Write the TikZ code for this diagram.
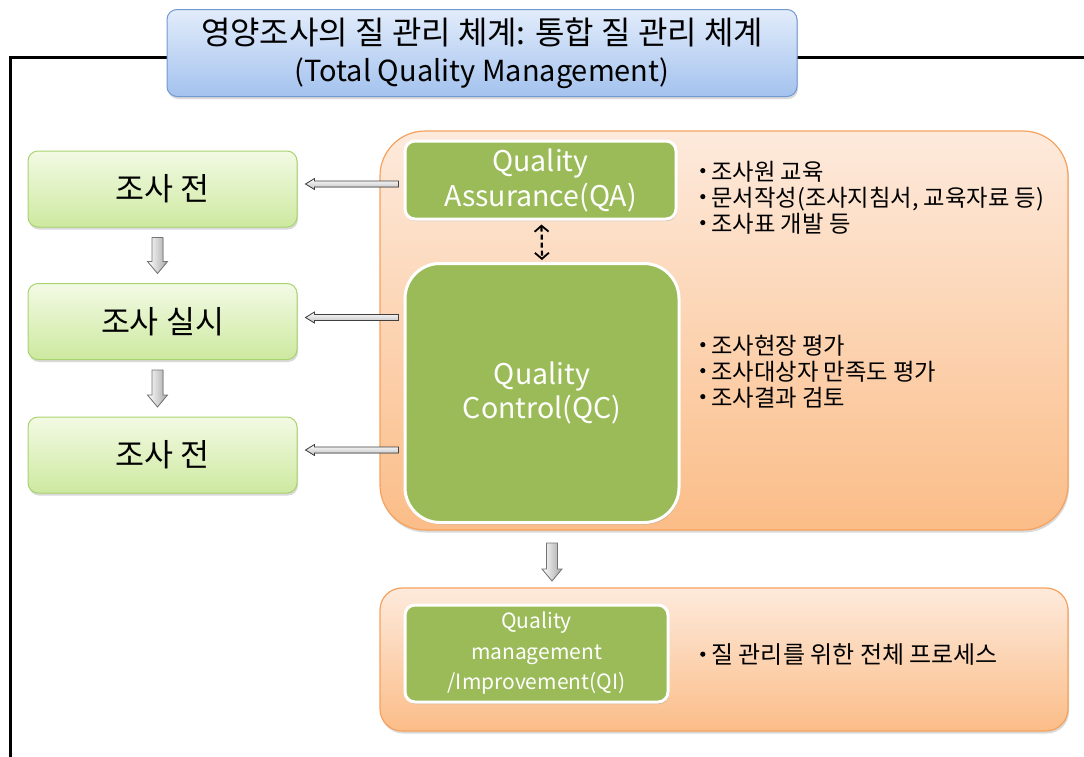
\documentclass[tikz,border=0pt]{standalone}
\usepackage{fontspec}
\setmainfont{Noto Sans CJK KR}
\usetikzlibrary{calc,shadows,arrows.meta}

\definecolor{titletop}{HTML}{E2ECFB}
\definecolor{titlebot}{HTML}{A3C2EE}
\definecolor{titleedge}{HTML}{7398D2}
\definecolor{stagetop}{HTML}{F3FAE4}
\definecolor{stagebot}{HTML}{CDE9A0}
\definecolor{stageedge}{HTML}{A9D36E}
\definecolor{qgreen}{HTML}{9BBB59}
\definecolor{pantop}{HTML}{FDEADC}
\definecolor{panbot}{HTML}{FBBD88}
\definecolor{panedge}{HTML}{F6A25E}

% hollow block arrow pointing down: #1 top point, #2 length
\newcommand\blockdown[2]{%
  \filldraw[blockarrow] ($(#1)+(-5.5,0)$) -- ++(11,0) -- ++(0,{#2-12}) -- ++(4.5,0)
    -- ++(-10,12) -- ++(-10,-12) -- ++(4.5,0) -- cycle;}
% thin outlined arrow pointing left: #1 tail, #2 tip
\newcommand\thinleft[2]{%
  \filldraw[thinarrow] ($(#1)+(0,-3)$) -- ($(#2)+(9,-3)$) -- ($(#2)+(9,-5.5)$) -- (#2)
    -- ($(#2)+(9,5.5)$) -- ($(#2)+(9,3)$) -- ($(#1)+(0,3)$) -- cycle;}
% list bullet
\newcommand\bul{\raisebox{0.3em}{\tikz\fill[black] (0,0) circle (2.6pt);}\hspace{6pt}}

\begin{document}
\begin{tikzpicture}[x=1pt,y=-1pt,
  softshadow/.style={drop shadow={opacity=0.3,shadow xshift=1pt,shadow yshift=-2.5pt}},
  titlebox/.style={draw=titleedge,line width=1pt,rounded corners=10pt,
    top color=titletop,bottom color=titlebot,minimum width=630pt,minimum height=87pt,
    align=center,font=\fontsize{29}{37}\selectfont,softshadow},
  stage/.style={draw=stageedge,line width=1pt,rounded corners=10pt,
    top color=stagetop,bottom color=stagebot,minimum width=269pt,minimum height=76pt,
    font=\fontsize{31.5}{33}\selectfont,softshadow},
  panel/.style={draw=panedge,line width=1.2pt,top color=pantop,bottom color=panbot,
    minimum width=688pt,softshadow},
  qbox/.style={fill=qgreen,draw=white,line width=3pt,text=white,align=center,
    drop shadow={opacity=0.35,shadow xshift=1pt,shadow yshift=-2pt}},
  bullets/.style={anchor=west,align=left,font=\fontsize{23.3}{26}\selectfont,inner sep=0pt},
  blockarrow/.style={draw=black!55,line width=0.8pt,left color=white,right color=black!35},
  thinarrow/.style={draw=black!75,line width=0.8pt,top color=white,bottom color=black!25},
  link/.style={line width=2.2pt,dash pattern=on 5pt off 3pt,
    {Straight Barb[length=6pt,width=14pt,line width=1.8pt]}-{Straight Barb[length=6pt,width=14pt,line width=1.8pt]}}
]
\useasboundingbox (0,0) rectangle (1084,756);

% outer frame
\draw[line width=3pt] (10,770) -- (10,57) -- (1100,57);

% title
\node[titlebox] (title) at (482,53)
  {{\fontsize{32}{37}\selectfont 영양조사의 질 관리 체계: 통합 질 관리 체계}\\
   (Total Quality Management)};

% survey stages
\node[stage] (s1) at (162.5,189) {조사 전};
\node[stage] (s2) at (162.5,321.5) {조사 실시};
\node[stage] (s3) at (162.5,455) {조사 전};

% panels
\node[panel,minimum height=399pt,rounded corners=45pt] (upper) at (724,330.5) {};
\node[panel,minimum height=143pt,rounded corners=22pt] (lower) at (724,659.5) {};

% quality boxes
\node[qbox,rounded corners=10pt,minimum width=271pt,minimum height=78pt,
  font=\fontsize{28.5}{35}\selectfont] (qa) at (540.5,180) {Quality\\Assurance(QA)};
\node[qbox,rounded corners=35pt,minimum width=274pt,minimum height=259pt,
  font=\fontsize{28.5}{34}\selectfont] (qc) at (542,393) {Quality\\Control(QC)};
\node[qbox,rounded corners=10pt,minimum width=263pt,minimum height=97pt,
  font=\fontsize{21}{30.5}\selectfont] (qi) at (536.5,653.5)
  {Quality\\management\\/Improvement(QI)};

% bullet lists
\node[bullets] (qanote) at (700,197.5)
  {\bul 조사원 교육\\\bul 문서작성(조사지침서, 교육자료 등)\\\bul 조사표 개발 등};
\node[bullets] (qcnote) at (700,371.5)
  {\bul 조사현장 평가\\\bul 조사대상자 만족도 평가\\\bul 조사결과 검토};
\node[bullets,font=\fontsize{24}{26}\selectfont] (qinote) at (700,655)
  {\bul 질 관리를 위한 전체 프로세스};

% arrows between stages
\coordinate (d1) at ($(s1.south)+(-5,10)$);
\coordinate (d2) at ($(s2.south)+(-5,10)$);
\blockdown{d1}{36}
\blockdown{d2}{37}

% arrows from the quality boxes to the stages
\path (qa.west |- s1.east) coordinate (t1);
\path (qc.west |- s2.east) coordinate (t2);
\path (qc.west |- s3.east) coordinate (t3);
\coordinate (h1) at ($(s1.east)+(8,-5)$);
\coordinate (h2) at ($(s2.east)+(8,-4)$);
\coordinate (h3) at ($(s3.east)+(8,-5)$);
\coordinate (t1) at ($(t1)+(-5,-5)$);
\coordinate (t2) at ($(t2)+(-5,-4)$);
\coordinate (t3) at ($(t3)+(-5,-5)$);
\thinleft{t1}{h1}
\thinleft{t2}{h2}
\thinleft{t3}{h3}

% QA <-> QC
\draw[link] ($(qa.south)+(1,4)$) -- ($(qc.north)+(0,-2)$);

% QC panel to QI panel
\coordinate (d3) at ($(qc.south)+(10,19)$);
\blockdown{d3}{38}
\end{tikzpicture}
\end{document}
